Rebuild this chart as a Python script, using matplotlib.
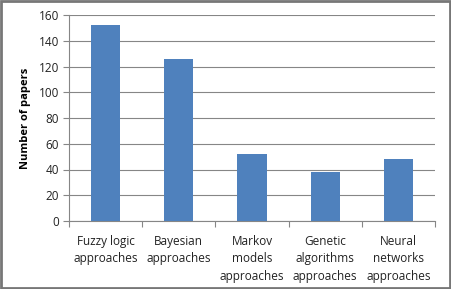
import matplotlib.pyplot as plt
import numpy as np

categories = ['Fuzzy logic\napproaches', 'Bayesian\napproaches', 'Markov\nmodels\napproaches',
              'Genetic\nalgorithms\napproaches', 'Neural\nnetworks\napproaches']
papers = [152, 126, 52, 38, 48]
yticks = [0, 20, 40, 60, 80, 100, 120, 140, 160]

plt.rcParams['font.family'] = ['Open Sans', 'DejaVu Sans']

fig = plt.figure(figsize=(4.51, 2.89), dpi=100)
ax = fig.add_axes([69 / 451, 1 - 221 / 289, 366 / 451, 206 / 289])

x = np.arange(len(categories))
ax.bar(x, papers, width=0.4, color='#4F81BD', zorder=3)

ax.set_xlim(-0.5, len(categories) - 0.5)
ax.set_ylim(0, 160)
ax.set_yticks(yticks)
ax.tick_params(axis='y', labelsize=8.5, length=4, color='#868686', pad=3, colors='#222222')
ax.yaxis.grid(True, color='#868686', linewidth=0.8, zorder=0)

# category labels centered, tick marks between categories
ax.set_xticks(np.arange(-0.5, len(categories)), minor=False)
ax.set_xticklabels([])
ax.set_xticks(x, minor=True)
ax.set_xticklabels(categories, minor=True, fontsize=8.5, linespacing=1.45)
ax.tick_params(axis='x', which='major', length=4, color='#868686')
ax.tick_params(axis='x', which='minor', length=0, pad=10, colors='#222222')

for s in ['top', 'right']:
    ax.spines[s].set_visible(False)
ax.spines['left'].set_color('#868686')
ax.spines['bottom'].set_color('#868686')

ax.set_ylabel('Number of papers', fontsize=8, fontweight='bold', labelpad=6)

# outer frame like the chart border
fig.patches.append(plt.Rectangle((0.002, 0.003), 0.995, 0.993, transform=fig.transFigure,
                                 fill=False, edgecolor='#777777', linewidth=2))

fig.savefig('out.png', dpi=100)
